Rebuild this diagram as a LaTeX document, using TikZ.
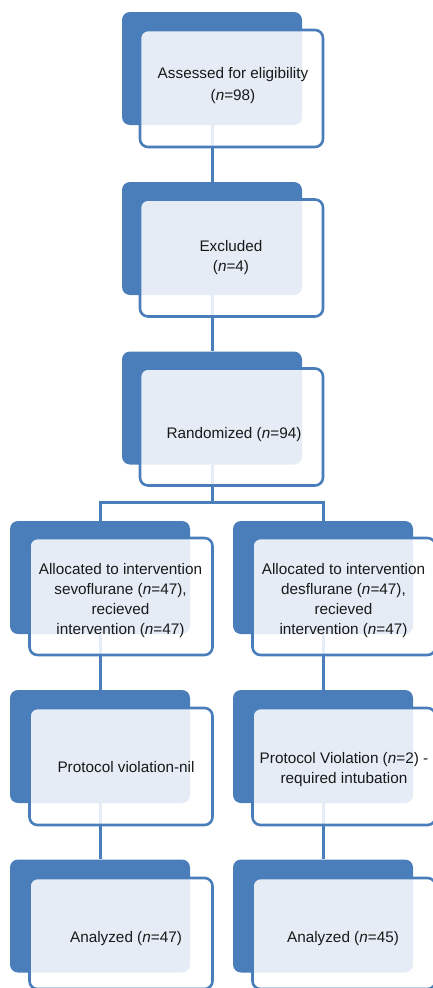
\documentclass[tikz,border=0pt]{standalone}
\usepackage{fontspec}
\setmainfont{Liberation Sans}
\definecolor{flowblue}{HTML}{4A7EBB}
\begin{document}
\begin{tikzpicture}[x=1pt,y=-1pt,
    backbox/.style={fill=flowblue,rounded corners=8pt,inner sep=0pt,minimum width=180pt,minimum height=113pt},
    frontbox/.style={draw=flowblue,line width=2.6pt,fill=white,fill opacity=.86,rounded corners=8pt,inner sep=0pt,minimum width=183pt,minimum height=117pt},
    txt/.style={align=center,inner sep=0pt,text=black!90,font=\fontsize{15.3}{20}\selectfont},
    flowline/.style={draw=flowblue,line width=3pt}]
    \useasboundingbox (0,0) rectangle (433,988);
    % back boxes
    \node[backbox] (b1) at (212,68.5){};
    \node[backbox] (b2) at (212,238.5){};
    \node[backbox] (b3) at (212,408){};
    \node[backbox] (b4l) at (100,577.5){};
    \node[backbox] (b4r) at (323,577.5){};
    \node[backbox] (b5l) at (100,746.5){};
    \node[backbox] (b5r) at (323,746.5){};
    \node[backbox] (b6l) at (100,916){};
    \node[backbox] (b6r) at (323,916){};
    % connectors
    \coordinate (split) at (212,502);
    \draw[flowline] (b1.south) -- (b2.north);
    \draw[flowline] (b2.south) -- (b3.north);
    \draw[flowline] (b3.south) -- (split) -| (b4l.north);
    \draw[flowline] (split) -| (b4r.north);
    \draw[flowline] (b4l.south) -- (b5l.north);
    \draw[flowline] (b4r.south) -- (b5r.north);
    \draw[flowline] (b5l.south) -- (b6l.north);
    \draw[flowline] (b5r.south) -- (b6r.north);
    % front boxes
    \node[frontbox] (f1) at (231.5,88.5){};
    \node[frontbox] (f2) at (231.5,258){};
    \node[frontbox] (f3) at (231.5,427){};
    \node[frontbox] (f4l) at (121,596.5){};
    \node[frontbox] (f4r) at (344,596.5){};
    \node[frontbox] (f5l) at (121,766.5){};
    \node[frontbox] (f5r) at (344,766.5){};
    \node[frontbox,minimum height=111pt] (f6l) at (121,933.5){};
    \node[frontbox,minimum height=111pt] (f6r) at (344,933.5){};
    % texts
    \node[txt] (t1) at (233,86){Assessed for eligibility\\[2pt](\textit{n}=98)};
    \node[txt] (t2) at (231,258){Excluded\\(\textit{n}=4)};
    \node[txt] (t3) at (234,435){Randomized (\textit{n}=94)};
    \node[txt] (t4l) at (120.5,601){Allocated to intervention\\sevoflurane (\textit{n}=47),\\recieved\\intervention (\textit{n}=47)};
    \node[txt] (t4r) at (343.5,601){Allocated to intervention\\desflurane (\textit{n}=47),\\recieved\\intervention (\textit{n}=47)};
    \node[txt] (t5l) at (126,767){Protocol violation-nil};
    \node[txt] (t5r) at (344,770){Protocol Violation (\textit{n}=2) -\\required intubation};
    \node[txt] (t6l) at (126,939){Analyzed (\textit{n}=47)};
    \node[txt] (t6r) at (343,939){Analyzed (\textit{n}=45)};
\end{tikzpicture}
\end{document}
